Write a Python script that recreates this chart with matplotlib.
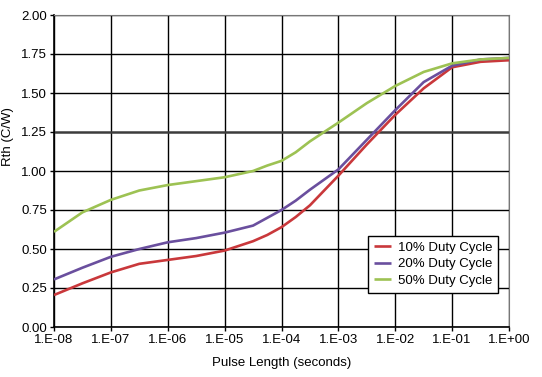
import numpy as np
import matplotlib
matplotlib.use("Agg")
import matplotlib.pyplot as plt

plt.rcParams['font.family'] = ['Liberation Sans', 'DejaVu Sans']

# pulse length exponents (log10 seconds)
pulse_exp = [-8, -7.5, -7, -6.5, -6, -5.5, -5, -4.5, -4.25, -4, -3.75,
             -3.5, -3, -2.5, -2, -1.5, -1, -0.5, 0]
pulse = [10.0 ** e for e in pulse_exp]

rth_10 = [0.205, 0.28, 0.35, 0.405, 0.43, 0.455, 0.49, 0.55, 0.59, 0.64, 0.705,
          0.78, 0.97, 1.17, 1.36, 1.53, 1.665, 1.70, 1.71]
rth_20 = [0.305, 0.38, 0.45, 0.50, 0.543, 0.57, 0.605, 0.65, 0.70, 0.75, 0.81,
          0.88, 1.01, 1.20, 1.39, 1.57, 1.675, 1.715, 1.725]
rth_50 = [0.61, 0.735, 0.815, 0.875, 0.91, 0.935, 0.96, 1.00, 1.035, 1.065, 1.12,
          1.19, 1.31, 1.435, 1.545, 1.635, 1.69, 1.715, 1.725]

labels = ["10% Duty Cycle", "20% Duty Cycle", "50% Duty Cycle"]
colors = ["#c9383b", "#6a4f9e", "#9dc253"]

xtick_vals = [1e-8, 1e-7, 1e-6, 1e-5, 1e-4, 1e-3, 1e-2, 1e-1, 1e0]
xtick_labels = ["1.E-08", "1.E-07", "1.E-06", "1.E-05", "1.E-04",
                "1.E-03", "1.E-02", "1.E-01", "1.E+00"]
ytick_vals = [0.0, 0.25, 0.5, 0.75, 1.0, 1.25, 1.5, 1.75, 2.0]

fig = plt.figure(figsize=(5.42, 3.77), dpi=100)
ax = fig.add_axes([54 / 542, 1 - 327 / 377, 455 / 542, 312 / 377])

ax.set_xscale("log")
ax.set_xlim(1e-8, 1e0)
ax.set_ylim(0, 2.0)

# grid
for xv in xtick_vals:
    ax.axvline(xv, color="black", lw=1.0, zorder=1)
for yv in ytick_vals:
    if yv == 1.25:
        ax.axhline(yv, color="#3c3c3c", lw=1.8, zorder=1)
    else:
        ax.axhline(yv, color="black", lw=1.0, zorder=1)

for ys, lab, c in zip([rth_10, rth_20, rth_50], labels, colors):
    ax.plot(pulse, ys, color=c, lw=1.9, label=lab, zorder=3,
            solid_capstyle="butt")

ax.set_xticks(xtick_vals)
ax.set_xticklabels(xtick_labels)
ax.minorticks_off()
ax.set_yticks(ytick_vals)
ax.set_yticklabels([f"{v:.2f}" for v in ytick_vals])
ax.tick_params(axis="both", direction="out", length=3, width=1,
               labelsize=9.5, pad=2, colors="black")

for side in ["top", "right"]:
    ax.spines[side].set_color("#777777")
for side in ["left", "bottom"]:
    ax.spines[side].set_color("black")
    ax.spines[side].set_linewidth(1.2)

ax.set_xlabel("Pulse Length (seconds)", fontsize=9.5)
ax.xaxis.set_label_coords(0.5, -0.096)
ax.set_ylabel("Rth (C/W)", fontsize=9.5)
ax.yaxis.set_label_coords(-0.088, 0.61)

leg = ax.legend(loc="upper left", bbox_to_anchor=(0.69, 0.293), fontsize=9.5,
                frameon=True, fancybox=False, framealpha=1, edgecolor="black",
                handlelength=1.3, handletextpad=0.5, borderpad=0.45,
                labelspacing=0.33, borderaxespad=0)
leg.get_frame().set_linewidth(1.0)
leg.set_zorder(5)

fig.savefig("out.png", dpi=100)
